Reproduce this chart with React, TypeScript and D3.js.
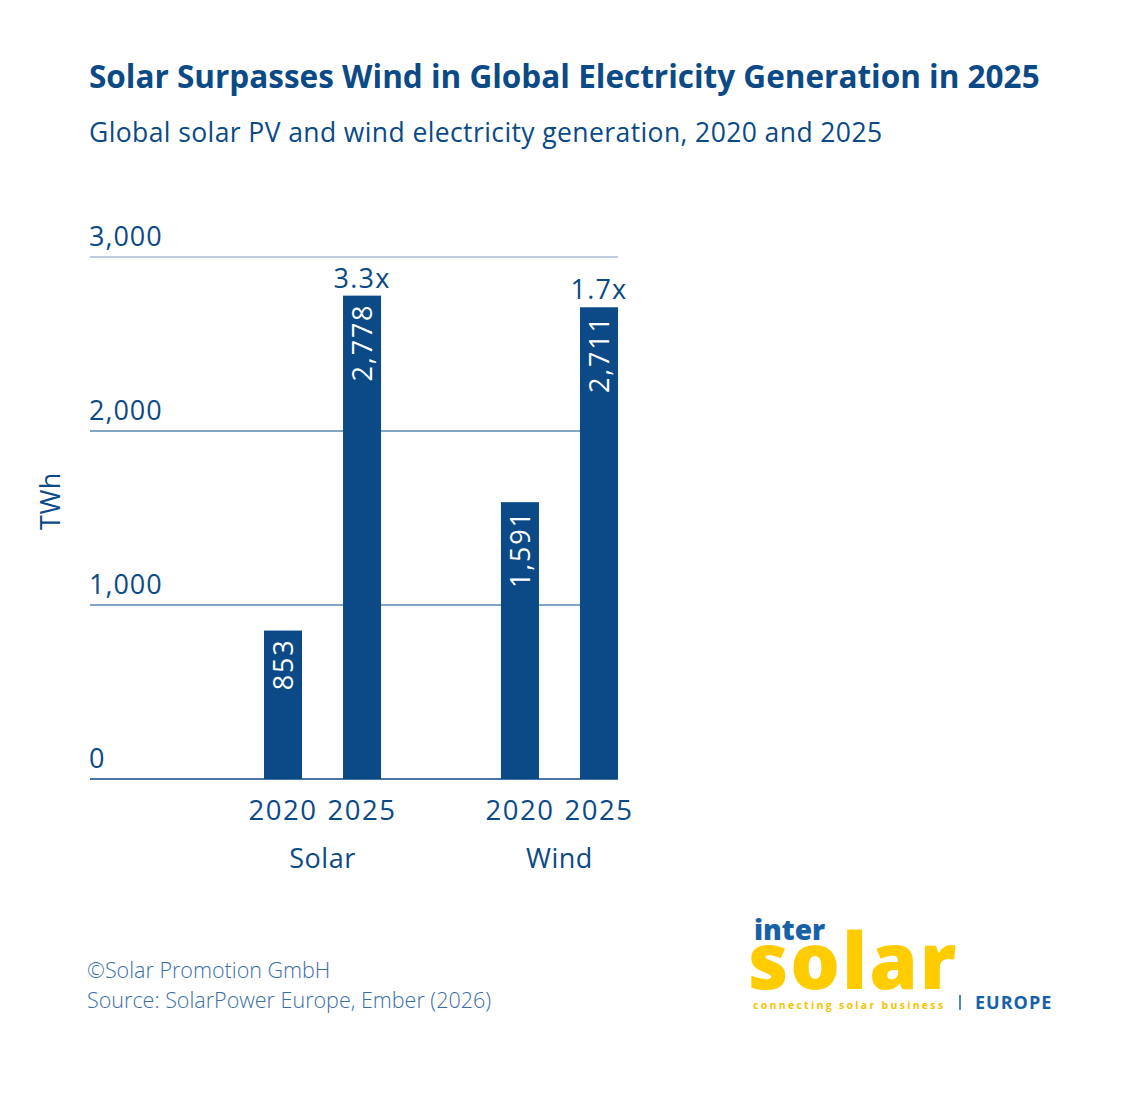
import React from "react"
import { scaleBand, scaleLinear, format } from "d3"

const groups = ["Solar", "Wind"]
const years = ["2020", "2025"]
const solarValues = [853, 2778]
const windValues = [1591, 2711]
const multipliers = ["3.3x", "1.7x"]
const yTicks = [0, 1000, 2000, 3000]

const BLUE = "#0b4a86"
const FONT = "'Open Sans', 'Noto Sans', sans-serif"

const App = () => {
  const width = 1128
  const height = 1097
  const margin = { left: 90, right: 510, top: 257, baseline: 779 }

  const y = scaleLinear().domain([0, 3000]).range([margin.baseline, margin.top])
  const x0 = scaleBand<string>()
    .domain(groups)
    .range([264, width - margin.right])
    .paddingInner(0.506)
    .paddingOuter(0)
  const x1 = scaleBand<string>()
    .domain(years)
    .range([0, x0.bandwidth()])
    .paddingInner(0.519)
    .paddingOuter(0)

  const series = [solarValues, windValues]
  const fmt = format(",")

  return (
    <svg
      width={width}
      height={height}
      style={{ display: "block", margin: -8, background: "#fff" }}
      fontFamily={FONT}
    >
      {/* titles */}
      <text x={89} y={88} fontSize={31.5} fontWeight={700} fill={BLUE}>
        Solar Surpasses Wind in Global Electricity Generation in 2025
      </text>
      <text x={89} y={142} fontSize={26.5} fill={BLUE} letterSpacing={0.4}>
        Global solar PV and wind electricity generation, 2020 and 2025
      </text>

      {/* grid + y labels */}
      {yTicks.map((t) => (
        <g key={t}>
          <line
            x1={margin.left}
            x2={width - margin.right}
            y1={y(t)}
            y2={y(t)}
            stroke={t === 3000 ? "#7d9cbf" : BLUE}
            strokeWidth={t === 0 ? 1.5 : 1.2}
          />
          <text x={89} y={y(t) - 11} fontSize={27} fill={BLUE} letterSpacing={1}>
            {fmt(t)}
          </text>
        </g>
      ))}

      <text
        transform={`translate(60, ${501}) rotate(-90)`}
        textAnchor="middle"
        fontSize={27}
        fill={BLUE}
        letterSpacing={0.5}
      >
        TWh
      </text>

      {/* bars */}
      {groups.map((g, gi) => (
        <g key={g} transform={`translate(${x0(g)}, 0)`}>
          {years.map((yr, yi) => {
            const v = series[gi][yi]
            const bx = x1(yr) ?? 0
            const bw = x1.bandwidth()
            return (
              <g key={yr}>
                <rect
                  x={bx}
                  y={y(v)}
                  width={bw}
                  height={y(0) - y(v)}
                  fill={BLUE}
                />
                <text
                  transform={`translate(${bx + bw / 2 + 10}, ${y(v) + 8}) rotate(-90)`}
                  textAnchor="end"
                  fontSize={27}
                  fill="#fff"
                  letterSpacing={1.8}
                >
                  {fmt(v)}
                </text>
                <text
                  x={bx + bw / 2}
                  y={820}
                  textAnchor="middle"
                  fontSize={27.5}
                  fill={BLUE}
                  letterSpacing={1.5}
                >
                  {yr}
                </text>
              </g>
            )
          })}
          <text
            x={(x1("2025") ?? 0) + x1.bandwidth() / 2}
            y={y(series[gi][1]) - 8}
            textAnchor="middle"
            fontSize={27}
            fill={BLUE}
            letterSpacing={1.2}
          >
            {multipliers[gi]}
          </text>
          <text
            x={x0.bandwidth() / 2}
            y={868}
            textAnchor="middle"
            fontSize={27}
            fill={BLUE}
            letterSpacing={0.5}
          >
            {g}
          </text>
        </g>
      ))}

      {/* footer */}
      <text x={87} y={978} fontSize={21.5} fontWeight={300} fill="#3a6ea8">
        ©Solar Promotion GmbH
      </text>
      <text x={87} y={1008} fontSize={21.5} fontWeight={300} fill="#3a6ea8">
        Source: SolarPower Europe, Ember (2026)
      </text>

      {/* logo */}
      <g fontFamily="'Open Sans', 'DejaVu Sans', sans-serif" fontWeight={800}>
        <text x={754} y={940} fontSize={28} fill="#1761a8">
          inter
        </text>
        <text x={748} y={989} fontSize={78} fill="#ffcc00" letterSpacing={2}>
          solar
        </text>
        <text
          x={753}
          y={1009}
          fontSize={10.5}
          fontWeight={700}
          fill="#f5c400"
          letterSpacing={2.3}
        >
          connecting solar business
        </text>
        <line x1={960} x2={960} y1={995} y2={1010} stroke="#1761a8" strokeWidth={1.5} />
        <text x={975} y={1009} fontSize={18} fontWeight={700} fill="#1761a8" letterSpacing={1}>
          EUROPE
        </text>
      </g>
    </svg>
  )
}

export default App
